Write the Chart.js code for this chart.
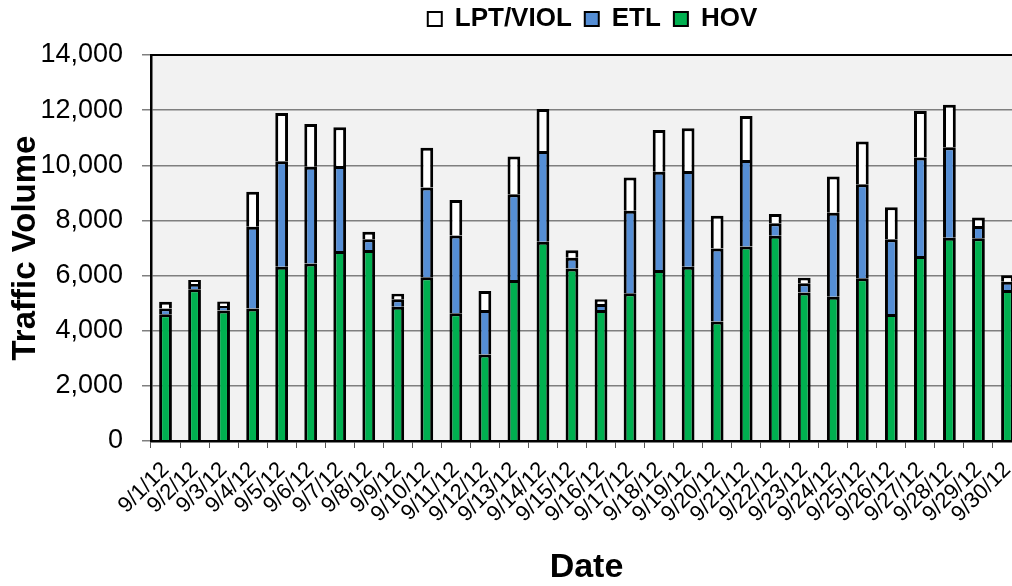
<!DOCTYPE html>
<html>
<head>
<meta charset="utf-8">
<script src="https://cdn.jsdelivr.net/npm/chart.js@4/dist/chart.umd.min.js"></script>
<style>
  html, body { margin: 0; padding: 0; background: #fff; overflow: hidden; }
  #wrap { width: 1012px; height: 586px; overflow: hidden; }
</style>
</head>
<body>
<div id="wrap">
  <canvas id="trafficChart" width="1185" height="586"></canvas>
</div>
<script>
// Daily traffic volume, September 2012
const dates = ['9/1/12', '9/2/12', '9/3/12', '9/4/12', '9/5/12', '9/6/12', '9/7/12', '9/8/12', '9/9/12', '9/10/12',
  '9/11/12', '9/12/12', '9/13/12', '9/14/12', '9/15/12', '9/16/12', '9/17/12', '9/18/12', '9/19/12', '9/20/12',
  '9/21/12', '9/22/12', '9/23/12', '9/24/12', '9/25/12', '9/26/12', '9/27/12', '9/28/12', '9/29/12', '9/30/12'];

const hovValues = [4600, 5500, 4730, 4810, 6320, 6440, 6890, 6930, 4870, 5940,
  4630, 3140, 5840, 7230, 6260, 4750, 5360, 6200, 6320, 4330,
  7050, 7440, 5390, 5230, 5900, 4610, 6710, 7370, 7350, 5480];

const etlValues = [210, 190, 170, 2960, 3830, 3510, 3080, 390, 270, 3250,
  2820, 1610, 3110, 3290, 390, 220, 2990, 3570, 3470, 2650,
  3140, 460, 330, 3050, 3410, 2710, 3570, 3280, 450, 300];

const lptValues = [240, 150, 160, 1270, 1750, 1550, 1410, 270, 200, 1450,
  1290, 690, 1370, 1520, 270, 170, 1210, 1510, 1550, 1190,
  1600, 330, 200, 1310, 1550, 1160, 1690, 1550, 310, 230];

const yTicks = [0, 2000, 4000, 6000, 8000, 10000, 12000, 14000];

const FONT = '"Liberation Sans", Arial, sans-serif';

// fondo gris y borde del área de trazado
const plotArea = {
  id: 'plotArea',
  beforeDraw(chart) {
    const { ctx, chartArea: a } = chart;
    ctx.save();
    ctx.fillStyle = '#f2f2f2';
    ctx.fillRect(a.left, a.top, a.right - a.left, a.bottom - a.top);
    ctx.restore();
  },
  afterDraw(chart) {
    const { ctx, chartArea: a } = chart;
    ctx.save();
    ctx.strokeStyle = '#000';
    ctx.lineWidth = 2;
    ctx.strokeRect(a.left, a.top, a.right - a.left, a.bottom - a.top);
    ctx.restore();
  }
};

const barStyle = {
  borderColor: '#000',
  borderWidth: { top: 3, left: 3, right: 3, bottom: 0 },
  borderSkipped: 'start',
  barPercentage: 0.44,
  categoryPercentage: 1
};

new Chart(document.getElementById('trafficChart'), {
  type: 'bar',
  data: {
    labels: dates,
    datasets: [
      { label: 'HOV', data: hovValues, backgroundColor: '#00b050', ...barStyle },
      { label: 'ETL', data: etlValues, backgroundColor: '#558ed5', ...barStyle },
      { label: 'LPT/VIOL', data: lptValues, backgroundColor: '#ffffff', ...barStyle }
    ]
  },
  options: {
    responsive: false,
    animation: false,
    layout: { padding: { top: -7, left: 0, right: 0, bottom: 0 } },
    plugins: {
      legend: {
        position: 'top',
        reverse: true,
        labels: {
          color: '#000',
          boxWidth: 14,
          boxHeight: 14,
          padding: 13,
          font: { family: FONT, size: 26, weight: 'bold' },
          generateLabels(chart) {
            const items = Chart.defaults.plugins.legend.labels.generateLabels(chart);
            items.forEach(it => { it.lineWidth = 2; });
            return items;
          }
        }
      },
      // espaciador entre leyenda y gráfico
      title: {
        display: true,
        text: ' ',
        weight: 500,
        font: { size: 10 },
        padding: { top: 0, bottom: 1 }
      },
      tooltip: { enabled: false }
    },
    scales: {
      x: {
        stacked: true,
        grid: { drawOnChartArea: false, drawTicks: true, tickLength: 7, color: '#555', offset: true },
        border: { color: '#000', width: 2.5 },
        ticks: {
          autoSkip: false,
          minRotation: 45,
          maxRotation: 45,
          padding: 9,
          color: '#000',
          font: { family: FONT, size: 22 }
        },
        title: {
          display: true,
          text: 'Date',
          color: '#000',
          padding: { top: 0, bottom: -2 },
          font: { family: FONT, size: 34, weight: 'bold' }
        },
        afterFit(scale) { scale.height = 145; }
      },
      y: {
        stacked: true,
        min: 0,
        max: 14000,
        afterBuildTicks(scale) { scale.ticks = yTicks.map(v => ({ value: v })); },
        grid: { color: '#7f7f7f', lineWidth: 1.5, tickLength: 9 },
        border: { color: '#000', width: 2.5 },
        ticks: {
          padding: 19,
          color: '#000',
          font: { family: FONT, size: 27 },
          callback: v => v.toLocaleString('en-US')
        },
        title: {
          display: true,
          text: 'Traffic Volume',
          color: '#000',
          padding: { top: 6, bottom: 0 },
          font: { family: FONT, size: 33, weight: 'bold' }
        },
        afterFit(scale) { scale.width = 151; }
      },
      // eje vacío a la derecha para centrar la leyenda sobre el área visible
      yRight: {
        position: 'right',
        min: 0,
        max: 1,
        grid: { display: false },
        border: { display: false },
        ticks: { display: false },
        afterFit(scale) { scale.width = 163; }
      }
    }
  },
  plugins: [plotArea]
});
</script>
</body>
</html>
